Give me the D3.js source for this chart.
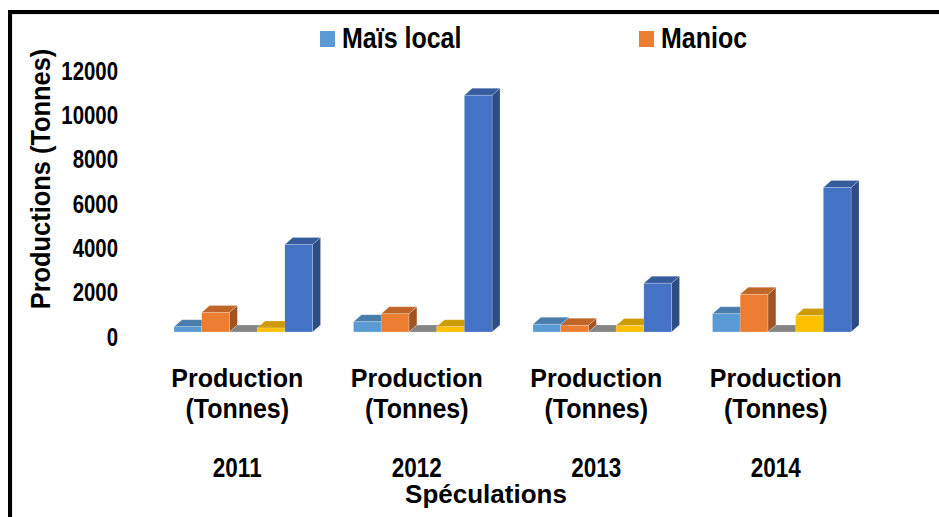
<!DOCTYPE html>
<html>
<head>
<meta charset="utf-8">
<script src="https://cdn.jsdelivr.net/npm/d3@7"></script>
<style>
  body { margin: 0; background: #fff; }
  text { font-family: "Liberation Sans", Arial, sans-serif; font-weight: bold; fill: #000; }
</style>
</head>
<body>
<div id="chart"></div>
<script>
// data
var years = ['2011', '2012', '2013', '2014'];
var seriesNames = ['Maïs local', 'Manioc', 'Série 3', 'Série 4', 'Série 5'];
var maisLocal = [240, 460, 350, 820];
var manioc = [880, 820, 300, 1700];
var serie3 = [0, 0, 0, 0];
var serie4 = [180, 240, 290, 740];
var serie5 = [3950, 10680, 2200, 6520];
var yTicks = [0, 2000, 4000, 6000, 8000, 10000, 12000];
var legendShown = 2; // only the first two legend entries are visible

var colors = ['#5B9BD5', '#ED7D31', '#A5A5A5', '#FFC000', '#4472C4'];
var values = [maisLocal, manioc, serie3, serie4, serie5];

var width = 939, height = 517;
var depth = {dx: 8, dy: 7};

var svg = d3.select('#chart').append('svg')
  .attr('width', width)
  .attr('height', height);

svg.append('rect').attr('width', width).attr('height', height).attr('fill', '#fff');

// frame (runs off the right and bottom edges)
svg.append('rect')
  .attr('x', 11.5).attr('y', 13.5).attr('width', 1000).attr('height', 600)
  .attr('fill', 'none').attr('stroke', '#d4d4d4').attr('stroke-width', 2);
svg.append('rect')
  .attr('x', 10).attr('y', 12).attr('width', 1000).attr('height', 600)
  .attr('fill', 'none').attr('stroke', '#000').attr('stroke-width', 4);

var x0 = d3.scaleBand()
  .domain(years)
  .range([153.5, 871.5])
  .paddingInner(0.228)
  .paddingOuter(0.114);

var x1 = d3.scaleBand()
  .domain(d3.range(seriesNames.length))
  .range([0, x0.bandwidth()]);

var y = d3.scaleLinear()
  .domain([0, 12000])
  .range([332, 66]);

// y axis labels
var yAxis = svg.append('g')
  .attr('transform', 'translate(118,0)')
  .call(d3.axisLeft(y).tickValues(yTicks).tickFormat(d3.format('d')).tickSize(0).tickPadding(0));
yAxis.select('.domain').remove();
yAxis.selectAll('text')
  .attr('x', null).attr('dy', null)
  .attr('transform', 'translate(0,13.3) scale(1,1.3)')
  .style('font-family', '"Liberation Sans", Arial, sans-serif')
  .style('font-weight', 'bold')
  .style('font-size', '20.4px')
  .attr('fill', '#000');

svg.append('text')
  .attr('transform', 'translate(50,179) rotate(-90) scale(1,1.08)')
  .attr('text-anchor', 'middle')
  .style('font-size', '25.4px')
  .text('Productions (Tonnes)');

// 3D bars
var rows = [];
years.forEach(function(yr, gi) {
  values.forEach(function(arr, si) {
    rows.push({year: yr, s: si, v: arr[gi]});
  });
});

var bars = svg.append('g').selectAll('g')
  .data(rows)
  .enter().append('g');

bars.each(function(d) {
  var g = d3.select(this);
  var x = x0(d.year) + x1(d.s);
  var w = x1.bandwidth();
  var yt = y(d.v), yb = y(0);
  var c = colors[d.s];
  var edge = 'rgba(255,255,255,0.35)';
  g.append('polygon')
    .attr('points', [[x + w, yt], [x + w + depth.dx, yt - depth.dy], [x + w + depth.dx, yb - depth.dy], [x + w, yb]].join(' '))
    .attr('fill', d3.color(c).darker(1.1))
    .attr('stroke', edge).attr('stroke-width', 0.6);
  g.append('polygon')
    .attr('points', [[x, yt], [x + depth.dx, yt - depth.dy], [x + w + depth.dx, yt - depth.dy], [x + w, yt]].join(' '))
    .attr('fill', d3.color(c).darker(0.6))
    .attr('stroke', edge).attr('stroke-width', 0.6);
  g.append('rect')
    .attr('x', x).attr('y', yt)
    .attr('width', w).attr('height', yb - yt)
    .attr('fill', c)
    .attr('stroke', edge).attr('stroke-width', 0.6);
});

// category labels
var cats = svg.append('g').selectAll('g')
  .data(years)
  .enter().append('g')
  .attr('transform', function(d) { return 'translate(' + (x0(d) + x0.bandwidth() / 2 - 6) + ',0)'; });

cats.append('text')
  .attr('text-anchor', 'middle')
  .attr('transform', 'translate(0,387)')
  .style('font-size', '25px')
  .text('Production');
cats.append('text')
  .attr('text-anchor', 'middle')
  .attr('transform', 'translate(0,418) scale(1,1.1)')
  .style('font-size', '25px')
  .text('(Tonnes)');
cats.append('text')
  .attr('text-anchor', 'middle')
  .attr('transform', 'translate(0,477) scale(1,1.25)')
  .style('font-size', '22.5px')
  .text(function(d) { return d; });

svg.append('text')
  .attr('text-anchor', 'middle')
  .attr('transform', 'translate(486,503)')
  .style('font-size', '26px')
  .text('Spéculations');

// legend
var legendX = [320, 639];
var legend = svg.append('g').selectAll('g')
  .data(seriesNames.slice(0, legendShown))
  .enter().append('g')
  .attr('transform', function(d, i) { return 'translate(' + legendX[i] + ',0)'; });

legend.append('rect')
  .attr('x', 0).attr('y', 31)
  .attr('width', 15).attr('height', 16)
  .attr('fill', function(d, i) { return colors[i]; });
legend.append('text')
  .attr('transform', 'translate(22,48) scale(1,1.17)')
  .style('font-size', '25px')
  .text(function(d) { return d; });
</script>
</body>
</html>
